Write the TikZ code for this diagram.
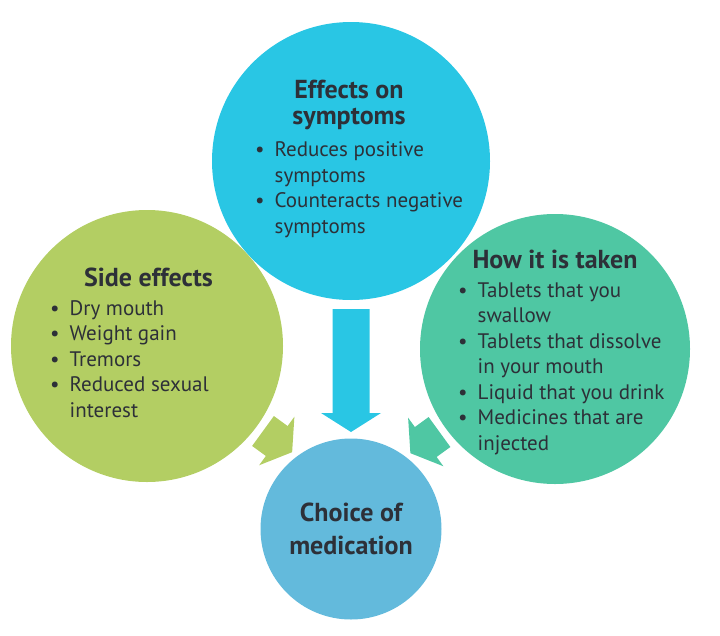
\documentclass[tikz,border=0pt]{standalone}
\usepackage{fontspec}
\setmainfont{PT Sans}
\usepackage{tikz}
\usetikzlibrary{positioning}
\definecolor{symblue}{RGB}{41,198,228}
\definecolor{sidegreen}{RGB}{179,206,99}
\definecolor{taketeal}{RGB}{79,199,163}
\definecolor{choiceblue}{RGB}{99,186,220}
\definecolor{inkgray}{RGB}{45,48,56}
\newcommand{\bulletitem}{\makebox[19.5pt][l]{\textbullet}}
\newcommand{\bulletcont}{\hspace*{19.5pt}}
\tikzset{
  blob/.style={circle, inner sep=0pt, outer sep=0pt},
  headtxt/.style={anchor=base, inner sep=0pt, text=inkgray,
    font=\fontsize{26}{26.5}\selectfont\bfseries},
  listtxt/.style={anchor=base west, inner sep=0pt, text=inkgray,
    font=\fontsize{21}{25.5}\selectfont},
  blockarrow/.pic={
    \fill (0,-18.5) -- ({#1-19},-18.5) -- ({#1-19},-30) -- (#1,0)
      -- ({#1-19},30) -- ({#1-19},18.5) -- (0,18.5) -- cycle;
  }
}

\begin{document}
\begin{tikzpicture}[x=1pt, y=-1pt]
  \useasboundingbox (0,0) rectangle (720,635);

  % the four circles
  \node[blob, fill=symblue,    minimum size=278pt] (eff)    at (351,161) {};
  \node[blob, fill=sidegreen,  minimum size=272pt] (side)   at (147,346) {};
  \node[blob, fill=taketeal,   minimum size=270pt] (take)   at (555,349) {};
  \node[blob, fill=choiceblue, minimum size=181pt] (choice) at (351,529) {};

  % block arrows into the choice
  \coordinate (sidetail) at (263,431);
  \coordinate (taketail) at (439.5,432);
  \pic[symblue, rotate=-90] at ([yshift=-9pt]eff.south) {blockarrow=123};
  \pic[sidegreen, rotate=-36] at (sidetail) {blockarrow=36};
  \pic[taketeal, rotate=-144] at (taketail) {blockarrow=36};

  % texts
  \node[headtxt] (efftitle) at (349,98)
    {\begin{tabular}[t]{@{}c@{}}Effects on\\symptoms\end{tabular}};
  \node[listtxt] (efflist) at (255,156.5)
    {\begin{tabular}[t]{@{}l@{}}
      \bulletitem Reduces positive\\ \bulletcont symptoms\\
      \bulletitem Counteracts negative\\ \bulletcont symptoms
    \end{tabular}};

  \node[headtxt] (sidetitle) at (148.5,286.5) {Side effects};
  \node[listtxt] (sidelist) at (50,315)
    {\begin{tabular}[t]{@{}l@{}}
      \bulletitem Dry mouth\\ \bulletitem Weight gain\\
      \bulletitem Tremors\\ \bulletitem Reduced sexual\\
      \bulletcont interest
    \end{tabular}};

  \node[headtxt] (taketitle) at (555,268) {How it is taken};
  \node[listtxt] (takelist) at (458,297)
    {\begin{tabular}[t]{@{}l@{}}
      \bulletitem Tablets that you\\ \bulletcont swallow\\
      \bulletitem Tablets that dissolve\\ \bulletcont in your mouth\\
      \bulletitem Liquid that you drink\\
      \bulletitem Medicines that are\\ \bulletcont injected
    \end{tabular}};

  \node[headtxt, font=\fontsize{26}{33}\selectfont\bfseries] (choicetitle) at (351,521.5)
    {\begin{tabular}[t]{@{}c@{}}Choice of\\medication\end{tabular}};
\end{tikzpicture}
\end{document}
